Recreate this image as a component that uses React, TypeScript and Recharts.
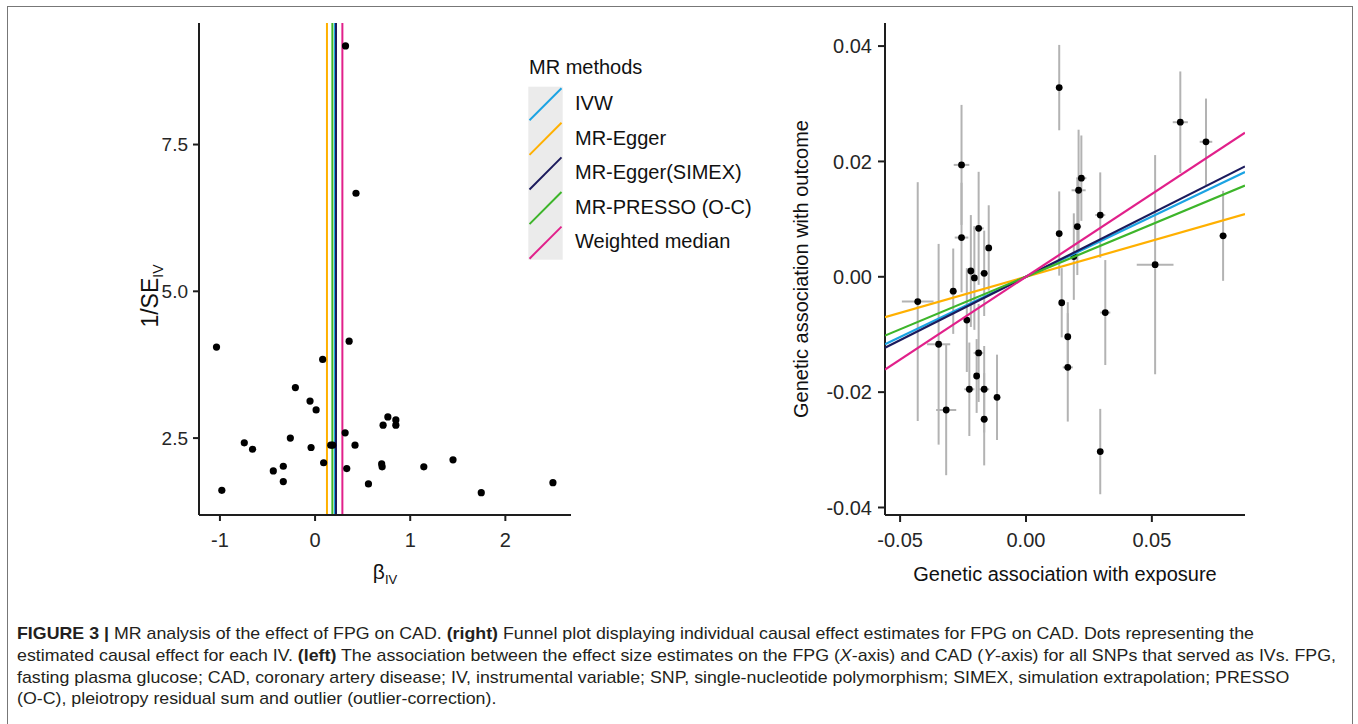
import React from 'react';
import { ScatterChart, Scatter, XAxis, YAxis, ReferenceLine, ErrorBar, Legend } from 'recharts';

const FONT = '"Liberation Sans", Arial, Helvetica, sans-serif';

// MR methods
const METHODS = ['IVW', 'MR-Egger', 'MR-Egger(SIMEX)', 'MR-PRESSO (O-C)', 'Weighted median'];
const METHOD_COLORS = ['#1ba3e3', '#ffb000', '#1b1a5c', '#3db52a', '#e1208a'];
const METHOD_ESTIMATES = [0.209, 0.125, 0.22, 0.182, 0.287];

// Funnel plot (left)
const FUNNEL_BETA = [-1.036, -0.98, -0.744, -0.657, -0.439, -0.334, -0.334, -0.26, -0.207, -0.053, -0.042, 0.011, 0.08, 0.09, 0.165, 0.185, 0.316, 0.358, 0.333, 0.42, 0.561, 0.7, 0.705, 0.715, 0.765, 0.849, 0.849, 1.143, 1.45, 1.747, 2.5, 0.32, 0.43];
const FUNNEL_INV_SE = [4.05, 1.61, 2.42, 2.31, 1.94, 2.02, 1.76, 2.5, 3.36, 3.13, 2.34, 2.98, 3.84, 2.08, 2.38, 2.38, 2.59, 4.15, 1.98, 2.38, 1.72, 2.06, 2.01, 2.72, 2.86, 2.81, 2.72, 2.01, 2.13, 1.57, 1.74, 9.18, 6.67];
const LEFT_X_TICKS = [-1, 0, 1, 2];
const LEFT_Y_TICKS = [2.5, 5, 7.5];
const LEFT_X_DOMAIN = [-1.22, 2.69];
const LEFT_Y_DOMAIN = [1.19, 9.57];

// Scatter plot (right)
const EXPOSURE_BETA = [-0.043, -0.0347, -0.0317, -0.0289, -0.0256, -0.0256, -0.0235, -0.0225, -0.0219, -0.0205, -0.0196, -0.0188, -0.0188, -0.0166, -0.0166, -0.0166, -0.0148, -0.0115, 0.0132, 0.0132, 0.0142, 0.0166, 0.0166, 0.019, 0.0204, 0.0209, 0.022, 0.0295, 0.0295, 0.0315, 0.0513, 0.0613, 0.0715, 0.0783];
const OUTCOME_BETA = [-0.0043, -0.0117, -0.0231, -0.0025, 0.0194, 0.0068, -0.0075, -0.0195, 0.001, -0.0002, -0.0172, 0.0084, -0.0132, 0.0006, -0.0195, -0.0247, 0.005, -0.0209, 0.0328, 0.0075, -0.0045, -0.0104, -0.0157, 0.0035, 0.0087, 0.015, 0.0171, 0.0107, -0.0303, -0.0062, 0.0021, 0.0268, 0.0234, 0.0071];
const EXPOSURE_SE = [0.0063, 0.0046, 0.004, 0.0015, 0.0031, 0.0027, 0.001, 0.002, 0.0012, 0.001, 0.001, 0.002, 0.002, 0.0015, 0.002, 0.0015, 0.001, 0.0012, 0.001, 0.001, 0.001, 0.0012, 0.002, 0.0012, 0.0015, 0.0028, 0.002, 0.002, 0.001, 0.002, 0.0073, 0.003, 0.0025, 0.0015];
const OUTCOME_SE = [0.0207, 0.0174, 0.0113, 0.0074, 0.0104, 0.0095, 0.009, 0.0081, 0.0097, 0.009, 0.0064, 0.0098, 0.0085, 0.0074, 0.0075, 0.008, 0.0074, 0.0074, 0.0074, 0.0073, 0.006, 0.006, 0.0094, 0.0075, 0.0084, 0.0105, 0.0074, 0.0074, 0.0074, 0.0091, 0.019, 0.0088, 0.0075, 0.0078];
const RIGHT_X_TICKS = [-0.05, 0, 0.05];
const RIGHT_Y_TICKS = [-0.04, -0.02, 0, 0.02, 0.04];
const RIGHT_X_DOMAIN = [-0.056, 0.087];
const RIGHT_Y_DOMAIN = [-0.0413, 0.044];

type Seg = { t: string; b?: boolean; i?: boolean };
const CAPTION_LINES: Seg[][] = [
  [
    { t: 'FIGURE 3 |', b: true },
    { t: ' MR analysis of the effect of FPG on CAD. ' },
    { t: '(right)', b: true },
    { t: ' Funnel plot displaying individual causal effect estimates for FPG on CAD. Dots representing the' },
  ],
  [
    { t: 'estimated causal effect for each IV. ' },
    { t: '(left)', b: true },
    { t: ' The association between the effect size estimates on the FPG (' },
    { t: 'X', i: true },
    { t: '-axis) and CAD (' },
    { t: 'Y', i: true },
    { t: '-axis) for all SNPs that served as IVs. FPG,' },
  ],
  [{ t: 'fasting plasma glucose; CAD, coronary artery disease; IV, instrumental variable; SNP, single-nucleotide polymorphism; SIMEX, simulation extrapolation; PRESSO' }],
  [{ t: '(O-C), pleiotropy residual sum and outlier (outlier-correction).' }],
];

const AXIS_COLOR = '#1e1e1e';
const TICK_STYLE = { fill: '#262626', fontSize: 20, fontFamily: FONT };
const LEFT_Y_TICK_STYLE = { fill: '#262626', fontSize: 19, fontFamily: FONT };

const Dot = (r: number) => (props: any) => <circle cx={props.cx} cy={props.cy} r={r} fill="#000" />;
const NoShape = () => <g />;

const BetaLabel = (props: any) => {
  const vb = props.viewBox || { x: 0, y: 0, width: 0 };
  return (
    <text x={vb.x + vb.width / 2} y={vb.y + 64} textAnchor="middle" fontFamily={FONT} fontSize={21} fill="#111">
      <tspan>β</tspan>
      <tspan fontSize={13} dy={5}>IV</tspan>
    </text>
  );
};

const InvSeLabel = (props: any) => {
  const vb = props.viewBox || { x: 0, y: 0, height: 0 };
  const x = vb.x + 39;
  const y = 296;
  return (
    <text x={x} y={y} transform={`rotate(-90 ${x} ${y})`} textAnchor="middle" fontFamily={FONT} fontSize={23} fill="#111">
      <tspan>1/SE</tspan>
      <tspan fontSize={14} dy={5}>IV</tspan>
    </text>
  );
};

const ExposureLabel = (props: any) => {
  const vb = props.viewBox || { x: 0, y: 0, width: 0 };
  return (
    <text x={vb.x + vb.width / 2} y={vb.y + 66} textAnchor="middle" fontFamily={FONT} fontSize={20} fill="#111">
      Genetic association with exposure
    </text>
  );
};

const OutcomeLabel = (props: any) => {
  const vb = props.viewBox || { x: 0, y: 0, height: 0 };
  const x = vb.x + 28;
  const y = vb.y + vb.height / 2;
  return (
    <text x={x} y={y} transform={`rotate(-90 ${x} ${y})`} textAnchor="middle" fontFamily={FONT} fontSize={20} fill="#111">
      Genetic association with outcome
    </text>
  );
};

const MethodLegend = () => {
  const top0 = 36.7;
  const keyH = 34.6;
  return (
    <svg width={250} height={230} style={{ overflow: 'visible', display: 'block' }}>
      <text x={14} y={24} fontFamily={FONT} fontSize={20} fill="#111">MR methods</text>
      <rect x={13.3} y={top0} width={34.4} height={keyH * METHODS.length} fill="#ebebeb" />
      {METHODS.map((m, i) => {
        const t = top0 + i * keyH;
        return (
          <g key={m}>
            <line x1={14.5} y1={t + keyH - 1} x2={46.5} y2={t + 1.5} stroke={METHOD_COLORS[i]} strokeWidth={2} />
            <text x={60} y={t + keyH / 2 + 6} fontFamily={FONT} fontSize={20} fill="#111">{m}</text>
          </g>
        );
      })}
    </svg>
  );
};

function measureLine(line: Seg[], size: number): number {
  const ctx = document.createElement('canvas').getContext('2d');
  if (!ctx) return 1300;
  let w = 0;
  for (const s of line) {
    ctx.font = `${s.i ? 'italic ' : ''}${s.b ? 'bold ' : ''}${size}px "Liberation Sans"`;
    w += ctx.measureText(s.t).width;
  }
  return w;
}

const Caption = () => {
  const size = 16;
  const natural = measureLine(CAPTION_LINES[1], size);
  const sx = (1338 - 17) / natural;
  const baselines = [39, 61, 82.5, 104];
  return (
    <svg width={1358} height={124} style={{ position: 'absolute', left: 0, top: 600, display: 'block' }}>
      {CAPTION_LINES.map((line, li) => (
        <text
          key={li}
          transform={`translate(17 ${baselines[li]}) scale(${sx} 1)`}
          fontFamily={FONT}
          fontSize={size}
          fill="#231f20"
          style={{ whiteSpace: 'pre' }}
        >
          {line.map((s, si) => (
            <tspan key={si} fontWeight={s.b ? 'bold' : 'normal'} fontStyle={s.i ? 'italic' : 'normal'}>{s.t}</tspan>
          ))}
        </text>
      ))}
    </svg>
  );
};

export default function App() {
  const funnelData = FUNNEL_BETA.map((b, i) => ({ x: b, y: FUNNEL_INV_SE[i] }));
  const snpData = EXPOSURE_BETA.map((bx, i) => ({ x: bx, y: OUTCOME_BETA[i], ex: EXPOSURE_SE[i], ey: OUTCOME_SE[i] }));
  const lineData = METHOD_ESTIMATES.map((s) => [
    { x: RIGHT_X_DOMAIN[0], y: s * RIGHT_X_DOMAIN[0] },
    { x: RIGHT_X_DOMAIN[1], y: s * RIGHT_X_DOMAIN[1] },
  ]);

  return (
    <div style={{ position: 'absolute', left: 0, top: 0, width: 1358, height: 724, overflow: 'hidden', background: '#fff' }}>
      <div style={{ position: 'absolute', left: 7, top: 6, width: 1344, height: 740, borderLeft: '1px solid #777', borderTop: '1px solid #777', borderRight: '1px solid #777' }} />

      <div style={{ position: 'absolute', left: 0, top: 0 }}>
        <ScatterChart width={760} height={600} margin={{ top: 23, right: 189, bottom: 25, left: 119 }}>
          <XAxis
            type="number"
            dataKey="x"
            domain={LEFT_X_DOMAIN}
            ticks={LEFT_X_TICKS}
            interval={0}
            allowDataOverflow
            height={60}
            tickSize={6}
            tickMargin={12}
            axisLine={{ stroke: AXIS_COLOR, strokeWidth: 2 }}
            tickLine={{ stroke: AXIS_COLOR, strokeWidth: 2 }}
            tick={TICK_STYLE}
            tickFormatter={(v: number) => String(v)}
            label={<BetaLabel />}
          />
          <YAxis
            type="number"
            dataKey="y"
            domain={LEFT_Y_DOMAIN}
            ticks={LEFT_Y_TICKS}
            interval={0}
            allowDataOverflow
            width={80}
            tickSize={6}
            tickMargin={5}
            axisLine={{ stroke: AXIS_COLOR, strokeWidth: 2 }}
            tickLine={{ stroke: AXIS_COLOR, strokeWidth: 2 }}
            tick={LEFT_Y_TICK_STYLE}
            tickFormatter={(v: number) => v.toFixed(1)}
            label={<InvSeLabel />}
          />
          <Scatter data={funnelData} shape={Dot(3.6)} isAnimationActive={false} legendType="none" />
          {METHODS.map((m, i) => (
            <ReferenceLine key={m} x={METHOD_ESTIMATES[i]} stroke={METHOD_COLORS[i]} strokeWidth={2} />
          ))}
          <Legend
            verticalAlign="middle"
            layout="horizontal"
            content={<MethodLegend />}
            wrapperStyle={{ position: 'absolute', left: 515, top: 50, width: 250, height: 230 }}
          />
        </ScatterChart>
      </div>

      <div style={{ position: 'absolute', left: 700, top: 0 }}>
        <ScatterChart width={600} height={600} margin={{ top: 23, right: 55, bottom: 25, left: 80 }}>
          <XAxis
            type="number"
            dataKey="x"
            domain={RIGHT_X_DOMAIN}
            ticks={RIGHT_X_TICKS}
            interval={0}
            allowDataOverflow
            height={60}
            tickSize={7}
            tickMargin={11}
            axisLine={{ stroke: AXIS_COLOR, strokeWidth: 2 }}
            tickLine={{ stroke: AXIS_COLOR, strokeWidth: 2 }}
            tick={TICK_STYLE}
            tickFormatter={(v: number) => v.toFixed(2)}
            label={<ExposureLabel />}
          />
          <YAxis
            type="number"
            dataKey="y"
            domain={RIGHT_Y_DOMAIN}
            ticks={RIGHT_Y_TICKS}
            interval={0}
            allowDataOverflow
            width={105}
            tickSize={7}
            tickMargin={6}
            axisLine={{ stroke: AXIS_COLOR, strokeWidth: 2 }}
            tickLine={{ stroke: AXIS_COLOR, strokeWidth: 2 }}
            tick={TICK_STYLE}
            tickFormatter={(v: number) => v.toFixed(2)}
            label={<OutcomeLabel />}
          />
          <Scatter data={snpData} shape={Dot(3.4)} isAnimationActive={false} legendType="none">
            <ErrorBar dataKey="ex" direction="x" width={0} stroke="#b3b3b3" strokeWidth={2} isAnimationActive={false} />
            <ErrorBar dataKey="ey" direction="y" width={0} stroke="#b3b3b3" strokeWidth={2} isAnimationActive={false} />
          </Scatter>
          {METHODS.map((m, i) => (
            <Scatter
              key={m}
              name={m}
              data={lineData[i]}
              line={{ stroke: METHOD_COLORS[i], strokeWidth: 2.2 }}
              lineType="joint"
              shape={NoShape}
              isAnimationActive={false}
              legendType="none"
            />
          ))}
        </ScatterChart>
      </div>

      <Caption />
    </div>
  );
}
